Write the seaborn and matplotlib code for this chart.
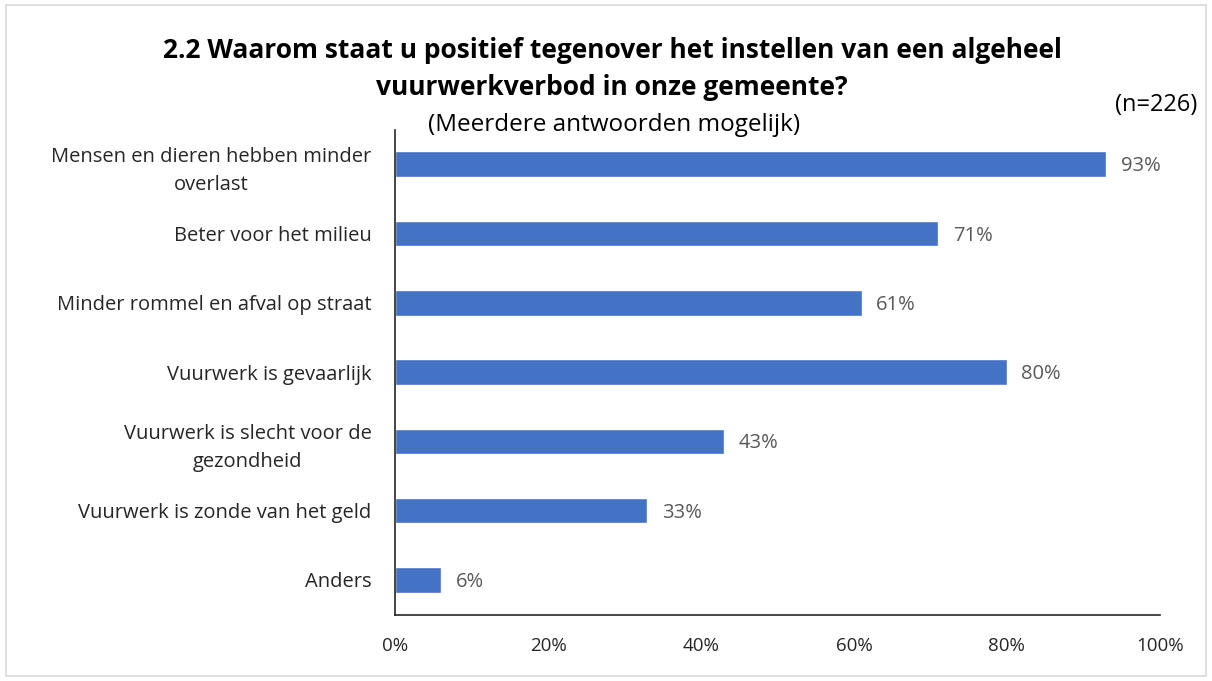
import matplotlib
matplotlib.use("Agg")
import matplotlib.pyplot as plt
import seaborn as sns
import pandas as pd
from matplotlib.patches import Rectangle

categories = [
    "Mensen en dieren hebben minder\noverlast",
    "Beter voor het milieu",
    "Minder rommel en afval op straat",
    "Vuurwerk is gevaarlijk",
    "Vuurwerk is slecht voor de\ngezondheid",
    "Vuurwerk is zonde van het geld",
    "Anders",
]
percentages = [93, 71, 61, 80, 43, 33, 6]
x_ticks = [0, 20, 40, 60, 80, 100]

df = pd.DataFrame({"categorie": categories, "pct": percentages})

sns.set_style("white")
plt.rcParams["font.family"] = ["Open Sans", "DejaVu Sans"]

fig = plt.figure(figsize=(12.12, 6.81), dpi=100)
ax = fig.add_axes([0.326, 0.0976, 0.631, 0.712])

sns.barplot(data=df, x="pct", y="categorie", orient="h", color="#4472C4",
            saturation=1, width=0.37, ax=ax)

for i, v in enumerate(percentages):
    ax.text(v + 1.9, i + 0.03, f"{v}%", va="center", ha="left", fontsize=14.5, color="#595959")

ax.set_xlim(0, 100)
ax.set_xticks(x_ticks)
ax.set_xticklabels([f"{t}%" for t in x_ticks], fontsize=13.5, color="#262626")
ax.tick_params(axis="x", direction="in", length=6, width=1, color="#262626", pad=16)
ax.tick_params(axis="y", length=0, pad=17, labelsize=14.5, labelcolor="#262626")
for lbl in ax.get_yticklabels():
    lbl.set_horizontalalignment("right")
    lbl.set_multialignment("center")
    lbl.set_linespacing(1.55)
ax.set_xlabel("")
ax.set_ylabel("")
sns.despine(ax=ax, top=True, right=True)
ax.spines["left"].set_color("#262626")
ax.spines["bottom"].set_color("#262626")
ax.spines["left"].set_linewidth(1.2)
ax.spines["bottom"].set_linewidth(1.2)

fig.text(0.505, 0.899, "2.2 Waarom staat u positief tegenover het instellen van een algeheel\nvuurwerkverbod in onze gemeente?",
         ha="center", va="center", fontsize=19, fontweight="bold", linespacing=1.45, color="black")
fig.text(0.507, 0.816, "(Meerdere antwoorden mogelijk)", ha="center", va="center", fontsize=17.5, color="black")
fig.text(0.988, 0.846, "(n=226)", ha="right", va="center", fontsize=17, color="black")

fig.patches.append(Rectangle((0.005, 0.008), 0.99, 0.984, transform=fig.transFigure,
                             fill=False, edgecolor="#D9D9D9", linewidth=1.2))

fig.savefig("out.png", dpi=100)
